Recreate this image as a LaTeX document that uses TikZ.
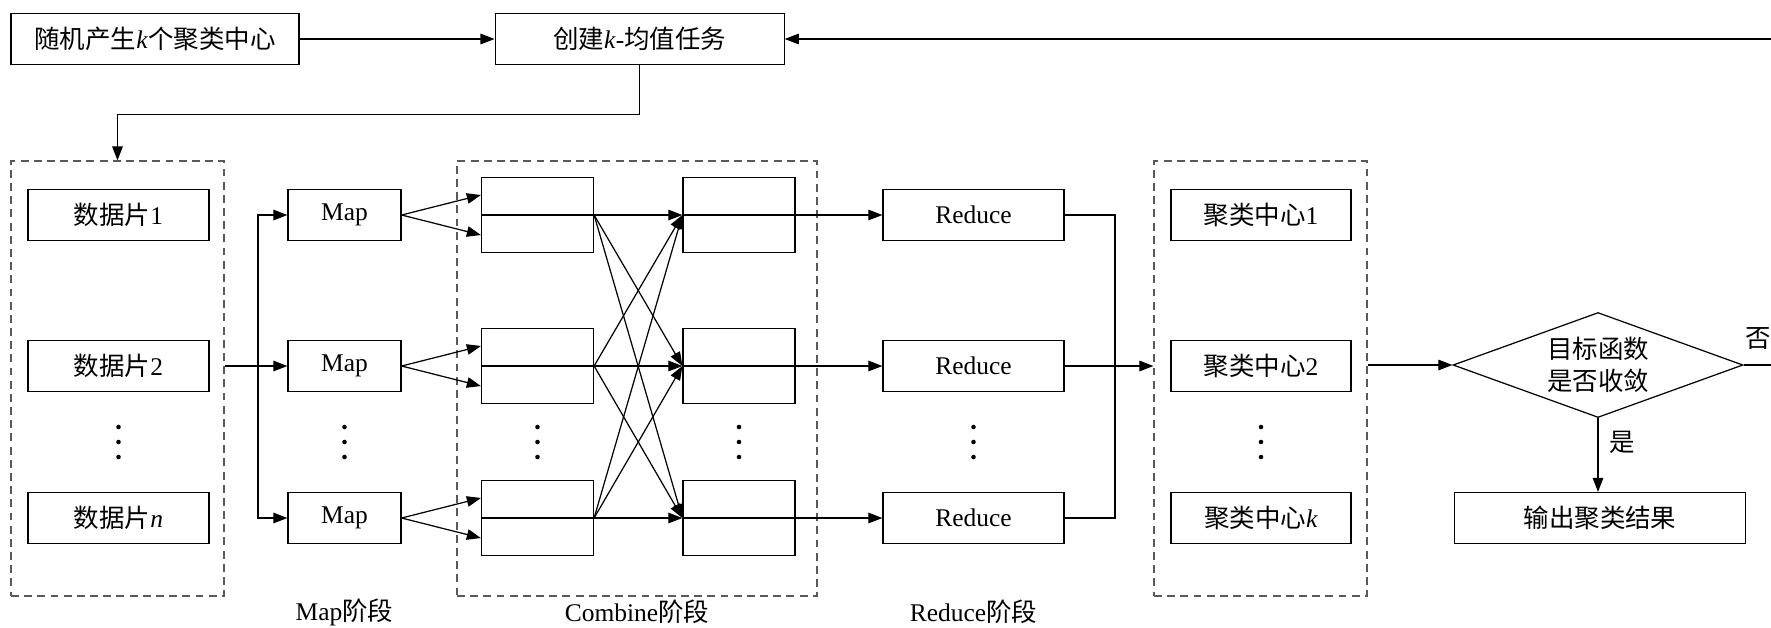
\documentclass[tikz,border=0pt]{standalone}
\usepackage{fontspec}
\setmainfont{Liberation Serif}
\newfontfamily\cjk{Noto Sans CJK SC}
\usetikzlibrary{arrows.meta, positioning, shapes.geometric}

\begin{document}
\begin{tikzpicture}[
  x=0.02cm, y=-0.02cm,
  every node/.style={font=\fontsize{14.5}{18}\selectfont, inner sep=0pt, align=center},
  box/.style={draw, line width=0.7pt, minimum height=1.02cm},
  cbox/.style={draw, line width=0.7pt, minimum width=2.24cm, minimum height=1.5cm},
  group/.style={draw=black!65, dash pattern=on 4.5pt off 3pt, line width=0.7pt, minimum height=8.7cm},
  arrow/.style={-{Triangle[length=8pt, width=6pt]}, line width=0.7pt},
  link/.style={line width=0.7pt},
  threedots/.pic={\fill (0,-15) circle (1.3pt) (0,0) circle (1.3pt) (0,15) circle (1.3pt);},
  ]
  \useasboundingbox (0,0) rectangle (1771,627);

  % Top row
  \node[box, minimum width=5.76cm] (init) at (155,39) {{\cjk 随机产生}\textit{k}{\cjk 个聚类中心}};
  \node[box, minimum width=5.78cm, right=3.9cm of init] (task) {{\cjk 创建}\textit{k}-{\cjk 均值任务}};

  % Data pieces
  \node[box, minimum width=3.62cm] (d1) at (118.5,215) {{\cjk 数据片}1};
  \node[box, minimum width=3.62cm] (d2) at (118.5,366) {{\cjk 数据片}2};
  \node[box, minimum width=3.62cm] (dn) at (118.5,518) {{\cjk 数据片}\textit{n}};
  \pic at (118.5,442) {threedots};
  \node[group, minimum width=4.26cm] (gdata) at (117.5,378.5) {};

  % Map
  \node[box, minimum width=2.26cm] (m1) at (344.5,215) {Map};
  \node[box, minimum width=2.26cm] (m2) at (344.5,366) {Map};
  \node[box, minimum width=2.26cm] (m3) at (344.5,518) {Map};
  \pic at (344.5,442) {threedots};

  % Combine
  \node[cbox] (cl1) at (537.5,215) {};
  \node[cbox] (cl2) at (537.5,366) {};
  \node[cbox] (cl3) at (537.5,518) {};
  \node[cbox] (cr1) at (739,215) {};
  \node[cbox] (cr2) at (739,366) {};
  \node[cbox] (cr3) at (739,518) {};
  \pic at (537.5,442) {threedots};
  \pic at (739,442) {threedots};
  \node[group, minimum width=7.2cm] (gcomb) at (637,378.5) {};

  % Reduce
  \node[box, minimum width=3.62cm] (r1) at (973.5,215) {Reduce};
  \node[box, minimum width=3.62cm] (r2) at (973.5,366) {Reduce};
  \node[box, minimum width=3.62cm] (r3) at (973.5,518) {Reduce};
  \pic at (973.5,442) {threedots};

  % Cluster centres
  \node[box, minimum width=3.6cm] (k1) at (1261,215) {{\cjk 聚类中心}1};
  \node[box, minimum width=3.6cm] (k2) at (1261,366) {{\cjk 聚类中心}2};
  \node[box, minimum width=3.6cm] (kk) at (1261,518) {{\cjk 聚类中心}\textit{k}};
  \pic at (1261,442) {threedots};
  \node[group, minimum width=4.26cm] (gcent) at (1260.5,378.5) {};

  % Decision and output
  \node[draw, diamond, aspect=2.8, line width=0.7pt, minimum width=5.8cm, minimum height=2.1cm] (dec) at (1598,365) {\cjk 目标函数\\\cjk 是否收敛};
  \node[box, minimum width=5.82cm] (out) at (1600,518) {\cjk 输出聚类结果};

  % Phase labels
  \node (pmap) at (344.5,612) {Map{\cjk 阶段}};
  \node (pcomb) at (637,612) {Combine{\cjk 阶段}};
  \node (pred) at (973.5,612) {Reduce{\cjk 阶段}};

  % Top arrows
  \draw[arrow] (init) -- (task);
  \draw[arrow] (task.south) -- ++(0,49) -| (gdata.north);

  % Data to Map
  \coordinate (busL) at (258,366);
  \draw[link] (gdata.east |- d2) -- (busL);
  \draw[arrow] (busL) |- (m1.west);
  \draw[arrow] (busL) -- (m2.west);
  \draw[arrow] (busL) |- (m3.west);

  % Map to Combine
  \draw[arrow] (m1.east) -- ([yshift=0.4cm]cl1.west);
  \draw[arrow] (m1.east) -- ([yshift=-0.4cm]cl1.west);
  \draw[arrow] (m2.east) -- ([yshift=0.4cm]cl2.west);
  \draw[arrow] (m2.east) -- ([yshift=-0.4cm]cl2.west);
  \draw[arrow] (m3.east) -- ([yshift=0.4cm]cl3.west);
  \draw[arrow] (m3.east) -- ([yshift=-0.4cm]cl3.west);

  % Dividers
  \draw[link] (cl1.west) -- (cl1.east);
  \draw[link] (cl2.west) -- (cl2.east);
  \draw[link] (cl3.west) -- (cl3.east);
  \draw[link] (cr1.west) -- (cr1.east);
  \draw[link] (cr2.west) -- (cr2.east);
  \draw[link] (cr3.west) -- (cr3.east);

  % Shuffle
  \draw[arrow] (cl1.east) -- (cr1.west);
  \draw[arrow] (cl1.east) -- (cr2.west);
  \draw[arrow] (cl1.east) -- (cr3.west);
  \draw[arrow] (cl2.east) -- (cr1.west);
  \draw[arrow] (cl2.east) -- (cr2.west);
  \draw[arrow] (cl2.east) -- (cr3.west);
  \draw[arrow] (cl3.east) -- (cr1.west);
  \draw[arrow] (cl3.east) -- (cr2.west);
  \draw[arrow] (cl3.east) -- (cr3.west);

  % Combine to Reduce
  \draw[arrow] (cr1.east) -- (r1.west);
  \draw[arrow] (cr2.east) -- (r2.west);
  \draw[arrow] (cr3.east) -- (r3.west);

  % Reduce to cluster centres
  \coordinate (busR) at (1115,366);
  \draw[link] (r1.east) -| (busR);
  \draw[link] (r3.east) -| (busR);
  \draw[arrow] (r2.east) -- (gcent.west |- r2);

  % Convergence test
  \draw[arrow] (gcent.east |- dec) -- (dec.west);
  \draw[arrow] (dec.south) -- node[right=0.22cm, pos=0.33] {\cjk 是} (dec.south |- out.north);
  \coordinate (back) at (1772,365);
  \draw[arrow] (dec.east) -- node[above=0.3cm] {\cjk 否} (back) |- (task.east);

\end{tikzpicture}
\end{document}
